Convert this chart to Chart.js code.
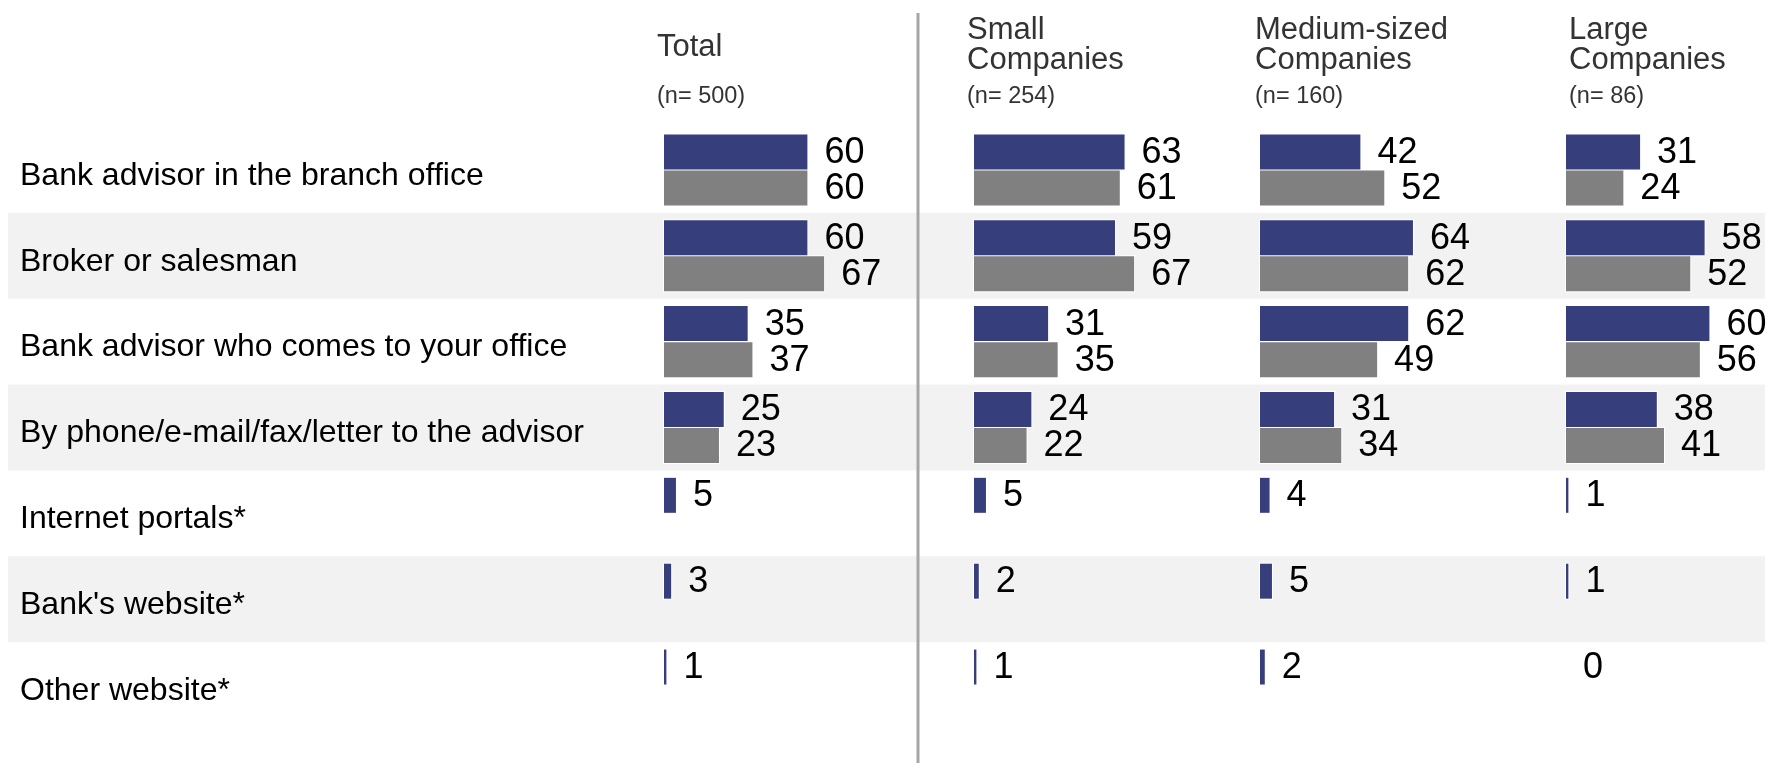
<!DOCTYPE html>
<html>
<head>
<meta charset="utf-8">
<script src="https://cdn.jsdelivr.net/npm/chart.js@4/dist/chart.umd.min.js"></script>
<style>
  body { margin: 0; background: #fff; }
  #wrap { position: relative; width: 1771px; height: 763px; overflow: hidden; font-family: "Liberation Sans", Arial, sans-serif; }
  canvas { position: absolute; top: 0; }
  .head { position: absolute; color: #333; font-size: 31px; line-height: 30.5px; white-space: nowrap; }
  .n { position: absolute; color: #333; font-size: 23.5px; line-height: 23.5px; top: 84px; white-space: nowrap; }
</style>
</head>
<body>
<div id="wrap">
  <canvas id="c0" width="964" height="763" style="left:0px"></canvas>
  <canvas id="c1" width="286" height="763" style="left:964px"></canvas>
  <canvas id="c2" width="306" height="763" style="left:1250px"></canvas>
  <canvas id="c3" width="215" height="763" style="left:1556px"></canvas>

  <div class="head" style="left:657px; top:30.7px">Total</div>
  <div class="n" style="left:657px">(n= 500)</div>
  <div class="head" style="left:967px; top:13.5px">Small<br>Companies</div>
  <div class="n" style="left:967px">(n= 254)</div>
  <div class="head" style="left:1255px; top:13.5px">Medium-sized<br>Companies</div>
  <div class="n" style="left:1255px">(n= 160)</div>
  <div class="head" style="left:1569px; top:13.5px">Large<br>Companies</div>
  <div class="n" style="left:1569px">(n= 86)</div>
</div>
<script>
const categories = [
    'Bank advisor in the branch office',
    'Broker or salesman',
    'Bank advisor who comes to your office',
    'By phone/e-mail/fax/letter to the advisor',
    'Internet portals*',
    "Bank's website*",
    'Other website*'
];

// blue = first bar of each row, gray = second bar
const totalBlue  = [60, 60, 35, 25, 5, 3, 1];
const totalGray  = [60, 67, 37, 23, null, null, null];
const smallBlue  = [63, 59, 31, 24, 5, 2, 1];
const smallGray  = [61, 67, 35, 22, null, null, null];
const mediumBlue = [42, 64, 62, 31, 4, 5, 2];
const mediumGray = [52, 62, 49, 34, null, null, null];
const largeBlue  = [31, 58, 60, 38, 1, 1, 0];
const largeGray  = [24, 52, 56, 41, null, null, null];

const BLUE = '#363f7b';
const GRAY = '#808080';
const BAND = '#f2f2f2';
const PX_PER_UNIT = 2.39;

// striped row backgrounds, drawn under everything
const bands = {
    id: 'bands',
    beforeDraw(chart, args, opts) {
        const y = chart.scales.y;
        const step = (y.bottom - y.top) / categories.length;
        const ctx = chart.ctx;
        ctx.save();
        ctx.fillStyle = BAND;
        for (let i = 1; i < categories.length; i += 2) {
            const c = y.getPixelForValue(i);
            ctx.fillRect(opts.left, c - step / 2, opts.right - opts.left, step);
        }
        ctx.restore();
    }
};

// thin white outline round the bars
const halo = {
    id: 'halo',
    beforeDatasetsDraw(chart) {
        const ctx = chart.ctx;
        ctx.save();
        ctx.fillStyle = '#fff';
        chart.data.datasets.forEach((ds, di) => {
            chart.getDatasetMeta(di).data.forEach((el, i) => {
                if (!ds.data[i]) return;
                const l = Math.min(el.base, el.x), w = Math.abs(el.x - el.base);
                ctx.fillRect(l - 1, el.y - el.height / 2 - 1, w + 2, el.height + 2);
            });
        });
        ctx.restore();
    }
};

// value labels to the right of each bar
const values = {
    id: 'values',
    afterDatasetsDraw(chart) {
        const ctx = chart.ctx;
        ctx.save();
        ctx.font = '36px "Liberation Sans", Arial, sans-serif';
        ctx.fillStyle = '#000';
        ctx.textBaseline = 'middle';
        ctx.textAlign = 'left';
        chart.data.datasets.forEach((ds, di) => {
            chart.getDatasetMeta(di).data.forEach((el, i) => {
                const v = ds.data[i];
                if (v === null || v === undefined) return;
                ctx.fillText(String(v), el.x + 17, el.y + 1);
            });
        });
        ctx.restore();
    }
};

// grey divider between Total and the company sizes
const divider = {
    id: 'divider',
    afterDraw(chart, args, opts) {
        if (!opts.x) return;
        const ctx = chart.ctx;
        ctx.save();
        ctx.strokeStyle = '#a6a6a6';
        ctx.lineWidth = 3;
        ctx.beginPath();
        ctx.moveTo(opts.x, 13);
        ctx.lineTo(opts.x, chart.height);
        ctx.stroke();
        ctx.restore();
    }
};

function makeChart(id, blue, gray, withLabels, bandLeft, bandRight, dividerX) {
    const canvas = document.getElementById(id);
    const padLeft = withLabels ? 20 : 10;
    const axisWidth = withLabels ? 644 : 0;
    const areaWidth = canvas.width - padLeft - axisWidth;
    return new Chart(canvas.getContext('2d'), {
        type: 'bar',
        data: {
            labels: categories,
            datasets: [{
                label: 'Series 1',
                data: blue,
                backgroundColor: BLUE,
                borderWidth: 0,
                categoryPercentage: 0.84,
                barPercentage: 0.97
            }, {
                label: 'Series 2',
                data: gray,
                backgroundColor: GRAY,
                borderWidth: 0,
                categoryPercentage: 0.84,
                barPercentage: 0.97
            }]
        },
        options: {
            indexAxis: 'y',
            responsive: false,
            animation: false,
            devicePixelRatio: 1,
            layout: { padding: { left: padLeft, right: 0, top: 127, bottom: 35 } },
            scales: {
                x: {
                    display: false,
                    min: 0,
                    max: areaWidth / PX_PER_UNIT
                },
                y: {
                    display: withLabels,
                    grid: { display: false },
                    border: { display: false },
                    ticks: {
                        crossAlign: 'far',
                        labelOffset: 6,
                        color: '#000',
                        font: { family: '"Liberation Sans", Arial, sans-serif', size: 32 }
                    },
                    afterFit(scale) { if (withLabels) scale.width = axisWidth; }
                }
            },
            plugins: {
                legend: { display: false },
                tooltip: { enabled: false },
                bands: { left: bandLeft, right: bandRight },
                divider: { x: dividerX }
            }
        },
        plugins: [bands, halo, values, divider]
    });
}

makeChart('c0', totalBlue, totalGray, true, 8, 964, 918);
makeChart('c1', smallBlue, smallGray, false, 0, 286, 0);
makeChart('c2', mediumBlue, mediumGray, false, 0, 306, 0);
makeChart('c3', largeBlue, largeGray, false, 0, 209, 0);
</script>
</body>
</html>
